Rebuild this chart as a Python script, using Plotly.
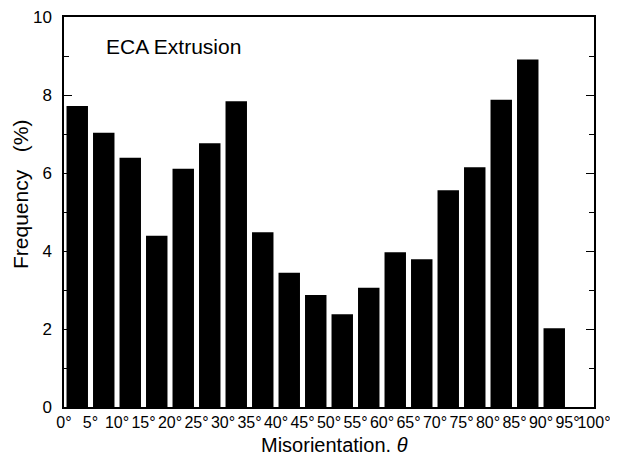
import plotly.graph_objects as go

bin_centers = [2.5 + 5 * i for i in range(19)]
frequency = [7.72, 7.03, 6.39, 4.39, 6.11, 6.76, 7.84, 4.48, 3.44, 2.87,
             2.38, 3.06, 3.97, 3.79, 5.56, 6.15, 7.88, 8.91, 2.02]
tick_vals = list(range(0, 101, 5))
tick_text = [f"{v}°" for v in tick_vals]
y_tick_vals = [0, 2, 4, 6, 8, 10]
y_minor_vals = [1, 3, 5, 7, 9]

FONT = "Liberation Sans, Arial, Helvetica, sans-serif"

# the page body has a default 8px margin, so the figure is drawn 8px in
OFF = 8
W, H = 618 - OFF, 456 - OFF
L, R, T, B = 64 - OFF, 24, 17 - OFF, 49
pw, ph = W - L - R, H - T - B


def px_x(x):
    return (x - OFF - L) / pw


def px_y(y):
    return (H - B - (y - OFF)) / ph


fig = go.Figure()
fig.add_trace(go.Bar(
    x=bin_centers, y=frequency, width=4.05,
    marker=dict(color="black", line=dict(width=0)),
    showlegend=False,
))

fig.update_layout(
    width=W, height=H,
    margin=dict(l=L, r=R, t=T, b=B, pad=0),
    paper_bgcolor="white", plot_bgcolor="white",
    font=dict(family=FONT, color="black", size=16),
    xaxis=dict(
        range=[0, 100], tickmode="array", tickvals=tick_vals, ticktext=tick_text,
        showline=True, linecolor="black", linewidth=1.5, mirror=True,
        ticks="", showgrid=False, zeroline=False, automargin=False,
        tickfont=dict(size=16), tickangle=0, ticklabeloverflow="allow",
    ),
    yaxis=dict(
        range=[0, 10], tickmode="array", tickvals=y_tick_vals,
        showline=True, linecolor="black", linewidth=1.5, mirror="ticks",
        ticks="inside", ticklen=8, tickwidth=1.2, tickcolor="black",
        minor=dict(tickvals=y_minor_vals, ticks="inside", ticklen=5,
                   tickwidth=1, tickcolor="black"),
        showgrid=False, zeroline=False, automargin=False,
        tickfont=dict(size=17), ticklabelstandoff=7, ticklabeloverflow="allow",
    ),
    annotations=[
        dict(text="Frequency   (%)", x=px_x(20), y=px_y(195), xref="paper", yref="paper",
             showarrow=False, textangle=-90, font=dict(size=21),
             xanchor="center", yanchor="middle"),
        dict(text="Misorientation. <i>θ</i>", x=px_x(334), y=px_y(445),
             xref="paper", yref="paper", showarrow=False, font=dict(size=20),
             xanchor="center", yanchor="middle"),
        dict(text="ECA Extrusion", x=px_x(104), y=px_y(47), xref="paper", yref="paper",
             showarrow=False, font=dict(size=21), xanchor="left", yanchor="middle"),
    ],
)

fig.write_html("out.html")
